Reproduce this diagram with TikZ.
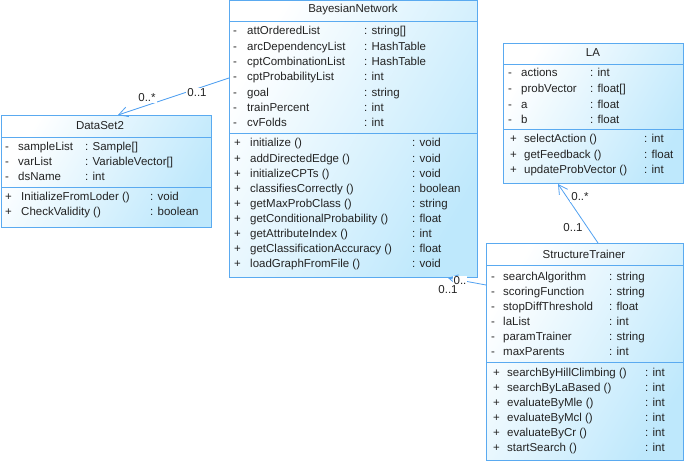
\documentclass[tikz,border=0pt]{standalone}
\usepackage{fontspec}
\setmainfont{Liberation Sans}
\usetikzlibrary{arrows.meta,calc}

\definecolor{umlline}{RGB}{90,170,240}
\definecolor{umlfill}{RGB}{190,232,252}
\definecolor{assocline}{RGB}{80,160,240}
\definecolor{umltext}{RGB}{35,35,35}

\begin{document}
\begin{tikzpicture}[
  x=1pt, y=-1pt,
  >={Straight Barb[open,length=9pt,width=10pt]},
  every node/.style={font=\fontsize{11.5}{13}\selectfont, text=umltext, inner sep=0pt},
  classbox/.style={draw=umlline, line width=1pt, anchor=north west,
    shading=axis, top color=white, bottom color=umlfill, shading angle=60},
  sepline/.style={draw=umlline, line width=1pt},
  assoc/.style={draw=assocline, line width=0.8pt},
  mult/.style={fill=white, inner sep=1pt}
]
\useasboundingbox (0,0) rectangle (685,462);

% ============================================================
% BayesianNetwork
% ============================================================
\node[classbox, minimum width=248pt, minimum height=277pt] (bn) at (229,0) {};
\draw[sepline] (229,22) -- (477,22);
\draw[sepline] (229,134) -- (477,134);
\node at (353,10) {BayesianNetwork};
\foreach \nm/\ty [count=\i from 0] in {attOrderedList/{string[]}, arcDependencyList/HashTable,
  cptCombinationList/HashTable, cptProbabilityList/int, goal/string, trainPercent/int, cvFolds/int} {
  \node[anchor=base west] at (233,{35+15.3*\i}) {-};
  \node[anchor=base west] at (247,{35+15.3*\i}) {\nm};
  \node[anchor=base west] at (364,{35+15.3*\i}) {: \ty};
}
\foreach \nm/\ty [count=\i from 0] in {initialize ()/void, addDirectedEdge ()/void,
  initializeCPTs ()/void, classifiesCorrectly ()/boolean, getMaxProbClass ()/string,
  getConditionalProbability ()/float, getAttributeIndex ()/int,
  getClassificationAccuracy ()/float, loadGraphFromFile ()/void} {
  \node[anchor=base west] at (234,{147+15.1*\i}) {+};
  \node[anchor=base west] at (250,{147+15.1*\i}) {\nm};
  \node[anchor=base west] at (412,{147+15.1*\i}) {: \ty};
}

% ============================================================
% DataSet2
% ============================================================
\node[classbox, minimum width=210pt, minimum height=112pt] (ds) at (1,115) {};
\draw[sepline] (1,138) -- (211,138);
\draw[sepline] (1,188) -- (211,188);
\node at (100,126) {DataSet2};
\foreach \nm/\ty [count=\i from 0] in {sampleList/{Sample[]}, varList/{VariableVector[]}, dsName/int} {
  \node[anchor=base west] at (5,{151+15*\i}) {-};
  \node[anchor=base west] at (18,{151+15*\i}) {\nm};
  \node[anchor=base west] at (85,{151+15*\i}) {: \ty};
}
\foreach \nm/\ty [count=\i from 0] in {InitializeFromLoder ()/void, CheckValidity ()/boolean} {
  \node[anchor=base west] at (5,{201+15*\i}) {+};
  \node[anchor=base west] at (21,{201+15*\i}) {\nm};
  \node[anchor=base west] at (150,{201+15*\i}) {: \ty};
}

% ============================================================
% LA
% ============================================================
\node[classbox, minimum width=180pt, minimum height=140pt] (la) at (503,43) {};
\draw[sepline] (503,65) -- (683,65);
\draw[sepline] (503,130) -- (683,130);
\node at (593,53) {LA};
\foreach \nm/\ty [count=\i from 0] in {actions/int, probVector/{float[]}, a/float, b/float} {
  \node[anchor=base west] at (508,{77+15.6*\i}) {-};
  \node[anchor=base west] at (521,{77+15.6*\i}) {\nm};
  \node[anchor=base west] at (590,{77+15.6*\i}) {: \ty};
}
\foreach \nm/\ty [count=\i from 0] in {selectAction ()/int, getFeedback ()/float, updateProbVector ()/int} {
  \node[anchor=base west] at (510,{143+15.5*\i}) {+};
  \node[anchor=base west] at (524,{143+15.5*\i}) {\nm};
  \node[anchor=base west] at (644,{143+15.5*\i}) {: \ty};
}

% ============================================================
% StructureTrainer
% ============================================================
\node[classbox, minimum width=197pt, minimum height=217pt] (st) at (486,243) {};
\draw[sepline] (486,266) -- (683,266);
\draw[sepline] (486,362) -- (683,362);
\node at (584,254) {StructureTrainer};
\foreach \nm/\ty [count=\i from 0] in {searchAlgorithm/string, scoringFunction/string,
  stopDiffThreshold/float, laList/int, paramTrainer/string, maxParents/int} {
  \node[anchor=base west] at (491,{280+15.1*\i}) {-};
  \node[anchor=base west] at (503,{280+15.1*\i}) {\nm};
  \node[anchor=base west] at (609,{280+15.1*\i}) {: \ty};
}
\foreach \nm/\ty [count=\i from 0] in {searchByHillClimbing ()/int, searchByLaBased ()/int,
  evaluateByMle ()/int, evaluateByMcl ()/int, evaluateByCr ()/int, startSearch ()/int} {
  \node[anchor=base west] at (493,{376+15.1*\i}) {+};
  \node[anchor=base west] at (507,{376+15.1*\i}) {\nm};
  \node[anchor=base west] at (645,{376+15.1*\i}) {: \ty};
}

% ============================================================
% Associations
% ============================================================
\draw[assoc, ->] ($(bn.north west)+(0,78)$) -- ($(ds.north west)+(117,0)$);
\node[mult] at (147,98) {0..*};
\node[mult] at (197,93) {0..1};

\draw[assoc, ->] ($(st.north west)+(112,0)$) -- ($(la.south west)+(55,0)$);
\node[mult] at (580,197) {0..*};
\node[mult] at (573,228) {0..1};

\draw[assoc, ->] ($(st.north west)+(0,42)$) -- ($(bn.south west)+(219,0)$);
\node[mult] at (460,281) {0..};
\node[mult] at (448,290) {0..1};

\end{tikzpicture}
\end{document}
